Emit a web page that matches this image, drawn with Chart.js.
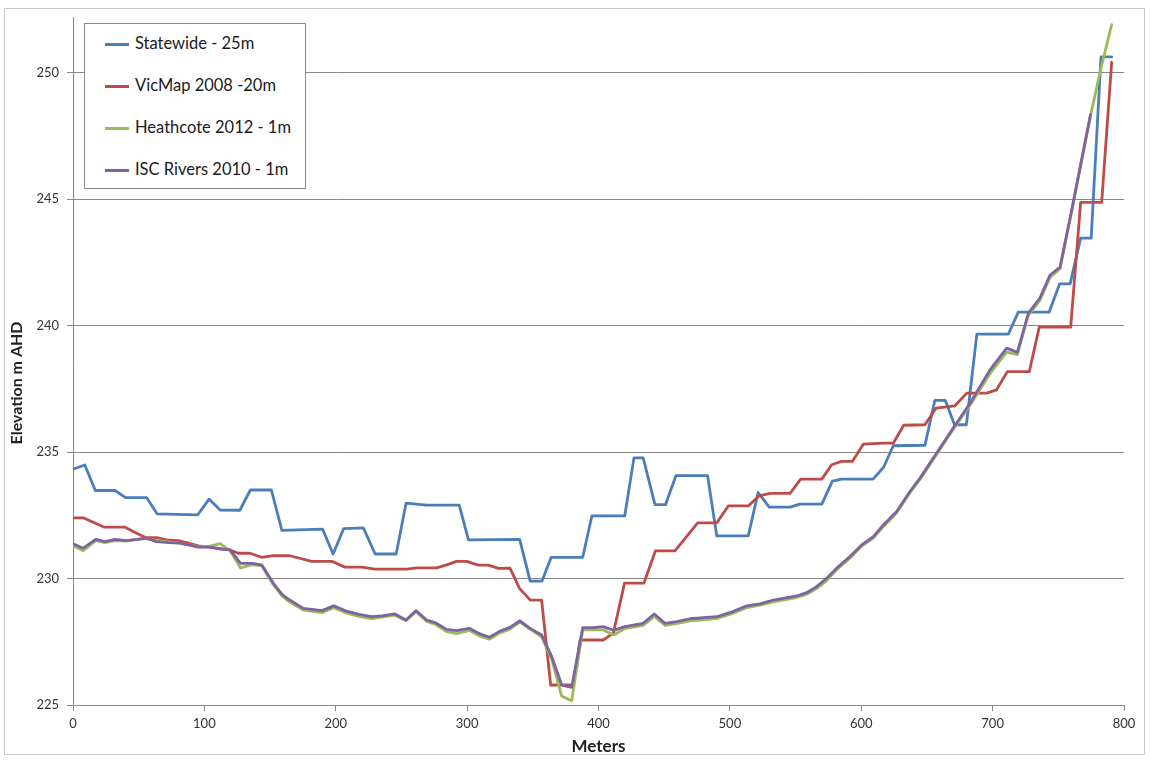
<!DOCTYPE html>
<html>
<head>
<meta charset="utf-8">
<script src="https://cdn.jsdelivr.net/npm/chart.js@4.4.1/dist/chart.umd.min.js"></script>
<style>
  html, body { margin: 0; padding: 0; background: #fff; }
  #wrap { position: relative; width: 1150px; height: 760px; }
  #legend {
    position: absolute; left: 84px; top: 23px; width: 220px; height: 164px;
    border: 1px solid #8a8a8a; background: #fff;
    font-family: Lato, "Open Sans", sans-serif; font-size: 16.5px; color: #1a1a1a;
  }
  .item { position: absolute; left: 20px; height: 20px; line-height: 20px; white-space: nowrap; }
  .item span.swatch { display: inline-block; width: 24px; height: 3px; vertical-align: middle; margin-right: 6px; }
</style>
</head>
<body>
<div id="wrap">
  <canvas id="profileChart" width="1150" height="760"></canvas>
  <div id="legend"></div>
</div>
<script>
// series labels and colours
const seriesLabels = ["Statewide - 25m", "VicMap 2008 -20m", "Heathcote 2012 - 1m", "ISC Rivers 2010 - 1m"];
const seriesColors = ["#4a7ebb", "#be4b48", "#9bbb59", "#7f63a1"];

// Statewide - 25m
const statewideX = [0, 9, 17, 32, 40, 56, 64, 95, 103.5, 112, 127, 135, 151, 159, 190, 198, 206, 221, 230, 246,
  253.5, 269, 294, 301, 340, 348, 357, 364, 388, 395, 420, 427, 434, 443, 451, 459, 483, 490, 514, 521.5,
  530, 546, 553, 570, 578, 585, 609, 617, 624.4, 648.5, 656, 664, 671, 680, 688, 712, 719.5, 743, 751, 759,
  767, 775, 782.5, 790.6];
const statewideY = [234.32, 234.49, 233.48, 233.48, 233.2, 233.2, 232.56, 232.52, 233.14, 232.71,
  232.7, 233.5, 233.5, 231.9, 231.95, 230.97, 231.97, 232.0, 230.97, 230.97,
  232.98, 232.9, 232.9, 231.53, 231.55, 229.9, 229.9, 230.84, 230.84, 232.48,
  232.48, 234.77, 234.77, 232.92, 232.92, 234.07, 234.07, 231.69, 231.69, 233.4,
  232.82, 232.82, 232.94, 232.94, 233.85, 233.93, 233.93, 234.4, 235.25, 235.27,
  237.04, 237.04, 236.08, 236.08, 239.66, 239.66, 240.53, 240.53, 241.65, 241.65,
  243.46, 243.46, 250.62, 250.62];

// VicMap 2008 -20m
const vicmapX = [0, 7.8, 23.8, 39.6, 48.5, 54.8, 63.7, 71.3, 80, 87.8, 95.4, 104.3, 119.5, 125.8, 134.7, 143.6,
  151.2, 165, 181.7, 197, 207, 219.7, 229.9, 254, 261.6, 276.8, 284.4, 292, 299.7, 308.5, 316, 324, 332.6,
  340, 348, 356.7, 363.6, 381, 386, 403.6, 411.3, 419.8, 434.6, 443.3, 458.2, 475.5, 490, 498.8, 514, 522.4,
  530.5, 545.8, 553.9, 570, 577.5, 585, 593.2, 601.6, 616.8, 624.4, 632.3, 648.5, 657, 671.3, 680.3, 695.5,
  703, 711.2, 727.9, 735.5, 759.4, 767, 783, 790.6];
const vicmapY = [232.4, 232.4, 232.03, 232.03, 231.79, 231.63, 231.62, 231.53, 231.5, 231.4,
  231.29, 231.24, 231.13, 231.0, 231.0, 230.84, 230.9, 230.9, 230.68, 230.68,
  230.45, 230.45, 230.37, 230.37, 230.42, 230.42, 230.54, 230.68, 230.68, 230.53,
  230.53, 230.4, 230.41, 229.6, 229.15, 229.15, 225.79, 225.79, 227.57, 227.57,
  227.84, 229.82, 229.82, 231.09, 231.09, 232.2, 232.2, 232.87, 232.87, 233.27,
  233.37, 233.37, 233.93, 233.93, 234.5, 234.63, 234.63, 235.31, 235.35, 235.35,
  236.06, 236.08, 236.74, 236.83, 237.33, 237.33, 237.46, 238.18, 238.18, 239.94,
  239.94, 244.87, 244.87, 250.41];

// Heathcote 2012 - 1m
const heathcoteX = [0, 7.8, 17.3, 24.4, 32, 40.9, 48.5, 56, 63.7, 72.5, 81.4, 87.8, 95.4, 104.3, 112, 119.5,
  127.6, 136, 143.6, 152.5, 159, 164, 175.3, 189.5, 198.5, 207.5, 217.5, 227.3, 235, 245, 253.5, 261, 269.2,
  275.5, 284.4, 292, 301.7, 309.8, 317, 325, 332.6, 340.2, 347.9, 356.7, 364.4, 372, 379.6, 388, 396, 403.6,
  411.5, 420, 434, 442.5, 450.6, 459.5, 469.6, 490, 500, 512.8, 523, 533, 550.9, 558.5, 566, 573.7, 581.3,
  591.4, 600.3, 609.2, 616.8, 627, 637, 644.7, 657.4, 670, 682.8, 698, 710.7, 718.8, 727.2, 736, 743.7,
  751.3, 760.2, 774.5, 781.7, 790.6];
const heathcoteY = [231.3, 231.1, 231.5, 231.42, 231.5, 231.48, 231.55, 231.58, 231.5, 231.45,
  231.4, 231.33, 231.26, 231.28, 231.38, 231.1, 230.42, 230.55, 230.5, 229.75,
  229.32, 229.1, 228.75, 228.65, 228.85, 228.65, 228.5, 228.42, 228.47, 228.55,
  228.33, 228.7, 228.3, 228.2, 227.9, 227.82, 227.95, 227.72, 227.6, 227.85,
  228.0, 228.28, 228.0, 227.7, 226.8, 225.35, 225.17, 227.97, 227.98, 227.97,
  227.77, 228.02, 228.15, 228.5, 228.15, 228.22, 228.33, 228.42, 228.58, 228.85,
  228.95, 229.08, 229.25, 229.38, 229.6, 229.92, 230.35, 230.8, 231.28, 231.6,
  232.05, 232.6, 233.38, 233.92, 234.9, 235.9, 236.85, 238.1, 238.95, 238.85,
  240.4, 241.0, 241.9, 242.25, 244.5, 248.3, 250.0, 251.9];

// ISC Rivers 2010 - 1m
const iscX = [0, 7.8, 17.3, 24.4, 32, 40.9, 48.5, 56, 63.7, 72.5, 81.4, 87.8, 95.4, 104.3, 112, 119.5,
  127.6, 136, 143.6, 152.5, 159, 164, 175.3, 189.5, 198.5, 207.5, 217.5, 227.3, 235, 245, 253.5, 261, 269.2,
  275.5, 284.4, 292, 301.7, 309.8, 317, 325, 332.6, 340.2, 347.9, 356.7, 364.4, 372, 379.6, 388, 396, 403.6,
  411.5, 420, 434, 442.5, 450.6, 459.5, 469.6, 490, 500, 512.8, 523, 533, 550.9, 558.5, 566, 573.7, 581.3,
  591.4, 600.3, 609.2, 616.8, 627, 637, 644.7, 657.4, 670, 682.8, 698, 710.7, 718.8, 727.2, 736, 743.7,
  751.3, 760.2, 774.5];
const iscY = [231.37, 231.2, 231.55, 231.46, 231.55, 231.5, 231.55, 231.6, 231.46, 231.42,
  231.4, 231.33, 231.24, 231.24, 231.16, 231.13, 230.6, 230.6, 230.54, 229.81,
  229.38, 229.18, 228.82, 228.73, 228.92, 228.72, 228.58, 228.49, 228.52, 228.6,
  228.36, 228.73, 228.36, 228.26, 227.99, 227.94, 228.03, 227.81, 227.68, 227.92,
  228.07, 228.33, 228.03, 227.77, 226.91, 225.79, 225.7, 228.06, 228.06, 228.1,
  227.95, 228.1, 228.23, 228.6, 228.23, 228.3, 228.41, 228.49, 228.65, 228.92,
  229.0, 229.15, 229.31, 229.44, 229.68, 230.01, 230.41, 230.87, 231.33, 231.66,
  232.12, 232.65, 233.44, 233.97, 234.96, 235.95, 236.93, 238.25, 239.11, 238.94,
  240.49, 241.09, 242.0, 242.31, 244.58, 248.34];

// axis settings
const xMin = 0, xMax = 800, xStep = 100;
const yMin = 225, yMax = 252.2, yStep = 5;
const xTitle = "Meters";
const yTitle = "Elevation m AHD";

function toPoints(xs, ys) {
    return xs.map((x, i) => ({ x: x, y: ys[i] }));
}

const seriesData = [
    toPoints(statewideX, statewideY),
    toPoints(vicmapX, vicmapY),
    toPoints(heathcoteX, heathcoteY),
    toPoints(iscX, iscY)
];

const gridColor = "#878787";
const fontFamily = "Lato, 'Open Sans', sans-serif";

// white background and outer frame
const frame = {
    id: "frame",
    beforeDraw(chart) {
        const c = chart.ctx;
        c.save();
        c.fillStyle = "#fff";
        c.fillRect(0, 0, chart.width, chart.height);
        c.strokeStyle = "#c8c8c8";
        c.lineWidth = 1;
        c.strokeRect(4.5, 8.5, 1140, 746);
        c.restore();
    }
};

// y axis title sits a bit below the middle of the axis, like the original
const yAxisTitle = {
    id: "yAxisTitle",
    afterDraw(chart) {
        const c = chart.ctx;
        c.save();
        c.translate(17, 383);
        c.rotate(-Math.PI / 2);
        c.fillStyle = "#222";
        c.font = "bold 16px " + fontFamily;
        c.textAlign = "center";
        c.textBaseline = "middle";
        c.fillText(yTitle, 0, 0);
        c.restore();
    }
};

const chart = new Chart(document.getElementById("profileChart").getContext("2d"), {
    type: "scatter",
    data: {
        datasets: seriesLabels.map((label, i) => ({
            label: label,
            data: seriesData[i],
            showLine: true,
            borderColor: seriesColors[i],
            backgroundColor: seriesColors[i],
            borderWidth: 2.8,
            pointRadius: 0,
            pointHoverRadius: 0,
            tension: 0,
            borderJoinStyle: "round",
            borderCapStyle: "round",
            order: 3 - i
        }))
    },
    options: {
        responsive: false,
        animation: false,
        layout: { padding: { left: 0, top: 17, right: 26, bottom: 0 } },
        plugins: { legend: { display: false }, tooltip: { enabled: false } },
        scales: {
            x: {
                type: "linear",
                min: xMin, max: xMax,
                afterFit: (scale) => { scale.height = 55; },
                ticks: { stepSize: xStep, color: "#333", padding: 5, font: { family: fontFamily, size: 13 } },
                grid: { drawOnChartArea: false, color: gridColor, tickLength: 6 },
                border: { color: gridColor },
                title: { display: true, text: xTitle, color: "#222", padding: { top: 0, bottom: 3 },
                    font: { family: fontFamily, size: 17, weight: "bold" } }
            },
            y: {
                type: "linear",
                min: yMin, max: yMax,
                afterFit: (scale) => { scale.width = 73; },
                ticks: { stepSize: yStep, includeBounds: false, color: "#333", padding: 8,
                    font: { family: fontFamily, size: 13 } },
                grid: { color: gridColor, tickLength: 6 },
                border: { color: gridColor },
                title: { display: false }
            }
        }
    },
    plugins: [frame, yAxisTitle]
});

// legend box built from the dataset labels
const legendBox = document.getElementById("legend");
seriesLabels.forEach((label, i) => {
    const row = document.createElement("div");
    row.className = "item";
    row.style.top = (9 + i * 42) + "px";
    row.innerHTML = `<span class="swatch" style="background:${seriesColors[i]}"></span>${label}`;
    legendBox.appendChild(row);
});
</script>
</body>
</html>
